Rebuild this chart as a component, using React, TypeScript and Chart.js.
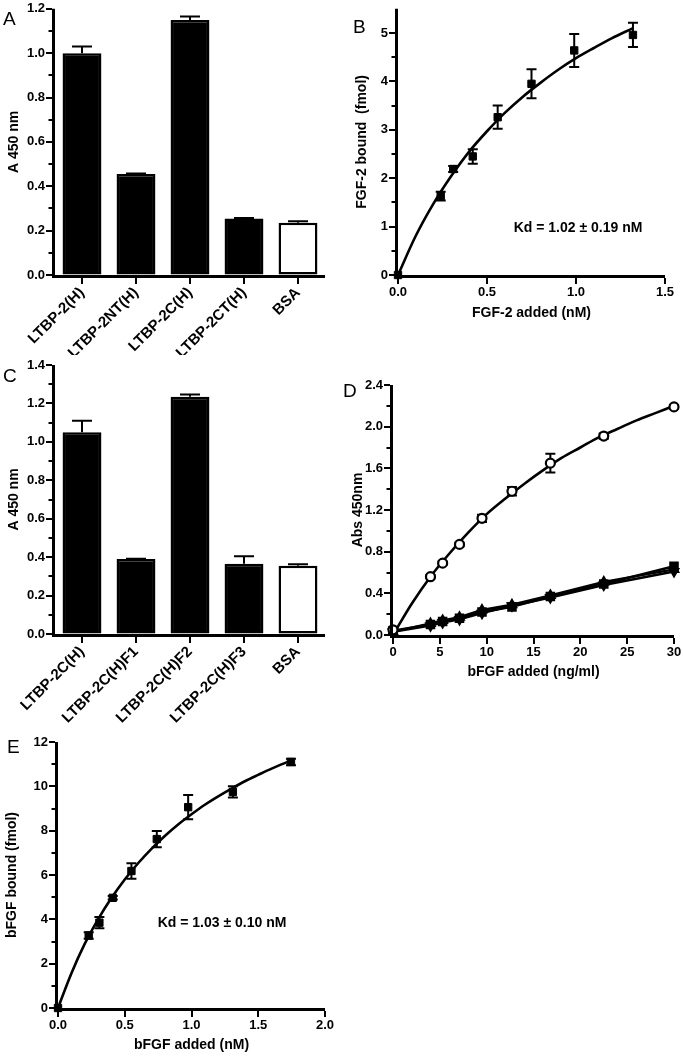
import React, { useEffect, useRef } from 'react';
import { Chart, registerables } from 'chart.js';
Chart.register(...registerables);

const FONT = '"Liberation Sans", Arial, Helvetica, sans-serif';

// ---------- Panel A ----------
const aLabels = ['LTBP-2(H)', 'LTBP-2NT(H)', 'LTBP-2C(H)', 'LTBP-2CT(H)', 'BSA'];
const aValues = [1.0, 0.455, 1.15, 0.255, 0.235];
const aErrors = [0.03, 0.002, 0.015, 0.002, 0.007];
const aMinorTicks = [0.1, 0.3, 0.5, 0.7, 0.9, 1.1];

// ---------- Panel B ----------
const bX = [0, 0.24, 0.31, 0.42, 0.56, 0.75, 0.99, 1.32];
const bY = [0, 1.63, 2.19, 2.45, 3.26, 3.95, 4.64, 4.96];
const bErr = [0, 0.09, 0.06, 0.15, 0.24, 0.3, 0.34, 0.25];
const bCurveX = [0, 0.1, 0.2, 0.3, 0.4, 0.5, 0.6, 0.7, 0.8, 0.9, 1.0, 1.1, 1.2, 1.32];
const bCurveY = [0, 0.81, 1.48, 2.05, 2.55, 2.97, 3.35, 3.68, 3.97, 4.24, 4.48, 4.69, 4.89, 5.1];
const bMinorTicks = [0.5, 1.5, 2.5, 3.5, 4.5];

// ---------- Panel C ----------
const cLabels = ['LTBP-2C(H)', 'LTBP-2C(H)F1', 'LTBP-2C(H)F2', 'LTBP-2C(H)F3', 'BSA'];
const cValues = [1.05, 0.39, 1.235, 0.365, 0.355];
const cErrors = [0.06, 0.002, 0.012, 0.04, 0.008];
const cMinorTicks = [0.1, 0.3, 0.5, 0.7, 0.9, 1.1, 1.3];

// ---------- Panel D ----------
const dX = [0, 4, 5.3, 7.1, 9.5, 12.7, 16.8, 22.5, 30];
const dOpen = [0.05, 0.56, 0.69, 0.87, 1.12, 1.38, 1.65, 1.91, 2.19];
const dOpenErr = [0, 0.015, 0.015, 0.015, 0.035, 0.04, 0.09, 0.025, 0.015];
const dSquare = [0.04, 0.1, 0.13, 0.16, 0.22, 0.27, 0.37, 0.49, 0.66];
const dTriUp = [0.03, 0.11, 0.14, 0.17, 0.24, 0.29, 0.38, 0.51, 0.63];
const dTriDown = [0.03, 0.09, 0.12, 0.15, 0.21, 0.28, 0.36, 0.48, 0.61];
const dCurveX = [0, 2, 4, 6, 8, 10, 12, 14, 16, 18, 20, 22, 24, 26, 28, 30];
const dCurveY = [0, 0.3, 0.56, 0.78, 0.98, 1.16, 1.31, 1.45, 1.58, 1.7, 1.8, 1.9, 1.98, 2.06, 2.13, 2.2];
const dMinorTicks = [0.2, 0.6, 1.0, 1.4, 1.8, 2.2];

// ---------- Panel E ----------
const eX = [0, 0.23, 0.31, 0.41, 0.55, 0.74, 0.975, 1.31, 1.745];
const eY = [0, 3.27, 3.85, 4.97, 6.18, 7.62, 9.06, 9.75, 11.1];
const eErr = [0, 0.15, 0.25, 0.08, 0.35, 0.37, 0.55, 0.25, 0.15];
const eCurveX = [0, 0.1, 0.2, 0.3, 0.4, 0.5, 0.6, 0.7, 0.8, 0.9, 1.0, 1.1, 1.2, 1.3, 1.4, 1.5, 1.6, 1.74];
const eCurveY = [0, 1.56, 2.89, 4.0, 4.96, 5.8, 6.53, 7.18, 7.76, 8.28, 8.74, 9.17, 9.55, 9.9, 10.23, 10.52, 10.8, 11.15];
const eMinorTicks = [1, 3, 5, 7, 9, 11];

const pts = (xs: number[], ys: number[]) => xs.map((x, i) => ({ x, y: ys[i] }));

// ---------- plugins ----------
const errorBarPlugin = {
  id: 'errorBars',
  beforeDatasetsDraw(chart: any) {
    const ctx = chart.ctx;
    const ys = chart.scales.y;
    chart.data.datasets.forEach((ds: any, i: number) => {
      const errs = ds.errors;
      if (!errs) return;
      const meta = chart.getDatasetMeta(i);
      ctx.save();
      ctx.strokeStyle = '#000';
      ctx.lineWidth = 2;
      meta.data.forEach((el: any, j: number) => {
        const e = errs[j];
        if (!e) return;
        const raw = ds.data[j];
        const v = typeof raw === 'number' ? raw : raw.y;
        const x = el.x;
        const yTop = ys.getPixelForValue(v + e);
        const yBot = ds.errorUpOnly ? ys.getPixelForValue(v) : ys.getPixelForValue(v - e);
        const cap = ds.errorCap / 2;
        ctx.beginPath();
        ctx.moveTo(x, yBot);
        ctx.lineTo(x, yTop);
        ctx.moveTo(x - cap, yTop);
        ctx.lineTo(x + cap, yTop);
        if (!ds.errorUpOnly) {
          ctx.moveTo(x - cap, yBot);
          ctx.lineTo(x + cap, yBot);
        }
        ctx.stroke();
      });
      ctx.restore();
    });
  },
};

// Axis lines, major and minor tick marks, drawn from the chart's own scales.
const axesPlugin = {
  id: 'axesDraw',
  afterDraw(chart: any, _args: any, opts: any) {
    const ctx = chart.ctx;
    const xs = chart.scales.x;
    const ys = chart.scales.y;
    const { left, right, top, bottom } = chart.chartArea;
    const aw = 3; // axis width
    const half = aw / 2;
    ctx.save();
    ctx.strokeStyle = '#000';
    ctx.lineCap = 'butt';
    // axis lines
    ctx.lineWidth = aw;
    ctx.beginPath();
    ctx.moveTo(left - half, top);
    ctx.lineTo(left - half, bottom + aw);
    ctx.moveTo(left - aw, bottom + half);
    ctx.lineTo(right, bottom + half);
    ctx.stroke();
    // major ticks
    ctx.lineWidth = 2;
    ctx.beginPath();
    ys.ticks.forEach((t: any) => {
      const y = Math.round(ys.getPixelForValue(t.value));
      ctx.moveTo(left - aw - 6, y);
      ctx.lineTo(left - aw, y);
    });
    xs.ticks.forEach((_t: any, i: number) => {
      const x = Math.round(xs.getPixelForTick(i));
      ctx.moveTo(x, bottom + aw);
      ctx.lineTo(x, bottom + aw + 6);
    });
    // minor ticks
    (opts.minor || []).forEach((v: number) => {
      const y = Math.round(ys.getPixelForValue(v));
      ctx.moveTo(left - aw - 3.5, y);
      ctx.lineTo(left - aw, y);
    });
    ctx.stroke();
    ctx.restore();
  },
};

const textPlugin = {
  id: 'panelText',
  afterDraw(chart: any, _args: any, opts: any) {
    const ctx = chart.ctx;
    ctx.save();
    ctx.fillStyle = '#000';
    (opts.items || []).forEach((it: any) => {
      ctx.font = it.font;
      ctx.textAlign = it.align || 'left';
      ctx.textBaseline = it.baseline || 'alphabetic';
      ctx.fillText(it.text, it.x, it.y);
    });
    ctx.restore();
  },
};

const tickFont = { family: FONT, size: 13, weight: 'bold' as const };
const titleFont = { family: FONT, size: 14, weight: 'bold' as const };
const letterFont = `19px ${FONT}`;
const kdFont = `bold 14px ${FONT}`;

const gridOpts = { display: true, drawOnChartArea: false, drawTicks: true, tickLength: 9, color: 'rgba(0,0,0,0)' };
const borderOpts = { display: false };

function yAxis(o: { max: number; step: number; width: number; title: string; pad: number; fmt: (v: number) => string }) {
  return {
    type: 'linear',
    min: 0,
    max: o.max,
    afterFit: (s: any) => {
      s.width = o.width;
    },
    border: borderOpts,
    grid: gridOpts,
    ticks: { stepSize: o.step, includeBounds: false, color: '#000', font: tickFont, padding: 1, callback: (v: any) => o.fmt(Number(v)) },
    title: { display: true, text: o.title, color: '#000', font: titleFont, padding: { top: o.pad, bottom: 0 } },
  };
}

function xLinear(o: { max: number; step: number; height: number; title: string; pad: number; fmt: (v: number) => string }) {
  return {
    type: 'linear',
    min: 0,
    max: o.max,
    afterFit: (s: any) => {
      s.height = o.height;
    },
    border: borderOpts,
    grid: gridOpts,
    ticks: { stepSize: o.step, color: '#000', font: tickFont, padding: 1, maxRotation: 0, callback: (v: any) => o.fmt(Number(v)) },
    title: { display: true, text: o.title, color: '#000', font: titleFont, padding: { top: 0, bottom: o.pad } },
  };
}

function xCategory(height: number) {
  return {
    type: 'category',
    offset: true,
    afterFit: (s: any) => {
      s.height = height;
    },
    border: borderOpts,
    grid: { ...gridOpts, offset: false },
    ticks: { color: '#000', font: { family: FONT, size: 15, weight: 'bold' as const }, minRotation: 45, maxRotation: 45, autoSkip: false, padding: 0 },
  };
}

const fmt1 = (v: number) => v.toFixed(1);
const fmt0 = (v: number) => String(Math.round(v));

const common = {
  responsive: false,
  animation: false,
  events: [],
};

function barConfig(labels: string[], values: number[], errors: number[], o: any) {
  return {
    type: 'bar',
    data: {
      labels,
      datasets: [
        {
          data: values,
          errors,
          errorUpOnly: true,
          errorCap: 20,
          backgroundColor: values.map((_, i) => (i === values.length - 1 ? '#fff' : '#000')),
          borderColor: '#000',
          borderWidth: 2.5,
          borderSkipped: false,
          barPercentage: 0.72,
          categoryPercentage: 1,
        },
      ],
    },
    options: {
      ...common,
      layout: { padding: o.padding },
      plugins: {
        legend: { display: false },
        tooltip: { enabled: false },
        axesDraw: { minor: o.minor },
        panelText: { items: o.texts },
      },
      scales: {
        x: xCategory(o.xHeight),
        y: yAxis({ max: o.max, step: 0.2, width: o.yWidth, title: 'A 450 nm', pad: o.yPad, fmt: fmt1 }),
      },
    },
    plugins: [errorBarPlugin, axesPlugin, textPlugin],
  };
}

function bindingConfig(o: any) {
  return {
    type: 'scatter',
    data: {
      datasets: [
        {
          data: pts(o.px, o.py),
          errors: o.err,
          errorCap: 10,
          pointStyle: 'rect',
          pointRadius: 5.2,
          backgroundColor: '#000',
          borderColor: '#000',
          borderWidth: 1,
          clip: false,
        },
        {
          data: pts(o.cx, o.cy),
          showLine: true,
          pointRadius: 0,
          borderColor: '#000',
          borderWidth: 2.6,
          cubicInterpolationMode: 'monotone',
          clip: false,
        },
      ],
    },
    options: {
      ...common,
      layout: { padding: o.padding },
      plugins: {
        legend: { display: false },
        tooltip: { enabled: false },
        axesDraw: { minor: o.minor },
        panelText: { items: o.texts },
      },
      scales: {
        x: xLinear({ max: o.xMax, step: 0.5, height: o.xHeight, title: o.xTitle, pad: o.xPad, fmt: fmt1 }),
        y: yAxis({ max: o.yMax, step: o.yStep, width: o.yWidth, title: o.yTitle, pad: o.yPad, fmt: fmt0 }),
      },
    },
    plugins: [errorBarPlugin, axesPlugin, textPlugin],
  };
}

const configA = () =>
  barConfig(aLabels, aValues, aErrors, {
    padding: { left: 0, top: 8, right: 15, bottom: 0 },
    xHeight: 80,
    yWidth: 55,
    yPad: 5.6,
    max: 1.2,
    minor: aMinorTicks,
    texts: [{ text: 'A', x: 3, y: 25, font: letterFont }],
  });

const configC = () =>
  barConfig(cLabels, cValues, cErrors, {
    padding: { left: 0, top: 13, right: 15, bottom: 0 },
    xHeight: 96,
    yWidth: 55,
    yPad: 5.6,
    max: 1.4,
    minor: cMinorTicks,
    texts: [{ text: 'C', x: 3, y: 30, font: letterFont }],
  });

const configB = () =>
  bindingConfig({
    px: bX,
    py: bY,
    err: bErr,
    cx: bCurveX,
    cy: bCurveY,
    padding: { left: 0, top: 8, right: 18, bottom: 0 },
    xMax: 1.5,
    xHeight: 55,
    xTitle: 'FGF-2 added (nM)',
    xPad: 8.6,
    yMax: 5.5,
    yStep: 1,
    yWidth: 58,
    yTitle: 'FGF-2 bound  (fmol)',
    yPad: 13.6,
    minor: bMinorTicks,
    texts: [
      { text: 'B', x: 13, y: 33, font: letterFont },
      { text: 'Kd = 1.02 \u00b1 0.19 nM', x: 238, y: 228, font: kdFont, align: 'center', baseline: 'middle' },
    ],
  });

const configE = () =>
  bindingConfig({
    px: eX,
    py: eY,
    err: eErr,
    cx: eCurveX,
    cy: eCurveY,
    padding: { left: 0, top: 12, right: 15, bottom: 0 },
    xMax: 2.0,
    xHeight: 49,
    xTitle: 'bFGF added (nM)',
    xPad: 3.6,
    yMax: 12,
    yStep: 2,
    yWidth: 58,
    yTitle: 'bFGF bound (fmol)',
    yPad: 3.6,
    minor: eMinorTicks,
    texts: [
      { text: 'E', x: 7, y: 23, font: letterFont },
      { text: 'Kd = 1.03 \u00b1 0.10 nM', x: 222, y: 193, font: kdFont, align: 'center', baseline: 'middle' },
    ],
  });

const configD = () => ({
  type: 'scatter',
  data: {
    datasets: [
      {
        data: pts(dX, dOpen),
        errors: dOpenErr,
        errorCap: 10,
        pointStyle: 'circle',
        pointRadius: 4.5,
        backgroundColor: '#fff',
        borderColor: '#000',
        borderWidth: 2.2,
        clip: false,
      },
      {
        data: pts(dCurveX, dCurveY),
        showLine: true,
        pointRadius: 0,
        borderColor: '#000',
        borderWidth: 2.6,
        cubicInterpolationMode: 'monotone',
        clip: false,
      },
      {
        data: pts(dX, dSquare),
        showLine: true,
        pointStyle: 'rect',
        pointRadius: 5,
        backgroundColor: '#000',
        borderColor: '#000',
        borderWidth: 2.5,
        clip: false,
      },
      {
        data: pts(dX, dTriUp),
        showLine: true,
        pointStyle: 'triangle',
        pointRadius: 4.5,
        backgroundColor: '#000',
        borderColor: '#000',
        borderWidth: 2.5,
        clip: false,
      },
      {
        data: pts(dX, dTriDown),
        showLine: true,
        pointStyle: 'triangle',
        pointRotation: 180,
        pointRadius: 4.5,
        backgroundColor: '#000',
        borderColor: '#000',
        borderWidth: 2.5,
        clip: false,
      },
    ],
  },
  options: {
    ...common,
    layout: { padding: { left: 0, top: 33, right: 9, bottom: 40 } },
    plugins: {
      legend: { display: false },
      tooltip: { enabled: false },
      axesDraw: { minor: dMinorTicks },
      panelText: { items: [{ text: 'D', x: 3, y: 45, font: letterFont }] },
    },
    scales: {
      x: xLinear({ max: 30, step: 5, height: 55, title: 'bFGF added (ng/ml)', pad: 9.6, fmt: fmt0 }),
      y: yAxis({ max: 2.4, step: 0.4, width: 53, title: 'Abs 450nm', pad: 9.6, fmt: fmt1 }),
    },
  },
  plugins: [errorBarPlugin, axesPlugin, textPlugin],
});

function ChartPanel(props: { left: number; top: number; width: number; height: number; make: () => any }) {
  const ref = useRef<HTMLCanvasElement>(null);
  useEffect(() => {
    const chart = new Chart(ref.current as HTMLCanvasElement, props.make());
    return () => chart.destroy();
  }, []);
  return (
    <canvas
      ref={ref}
      width={props.width}
      height={props.height}
      style={{ position: 'absolute', left: props.left, top: props.top, width: props.width, height: props.height }}
    />
  );
}

export default function App() {
  return (
    <div style={{ position: 'absolute', left: 0, top: 0, width: 683, height: 1057, background: '#fff', overflow: 'hidden' }}>
      <ChartPanel left={0} top={0} width={340} height={355} make={configA} />
      <ChartPanel left={340} top={0} width={343} height={330} make={configB} />
      <ChartPanel left={0} top={352} width={340} height={378} make={configC} />
      <ChartPanel left={340} top={352} width={343} height={378} make={configD} />
      <ChartPanel left={0} top={730} width={340} height={327} make={configE} />
    </div>
  );
}
